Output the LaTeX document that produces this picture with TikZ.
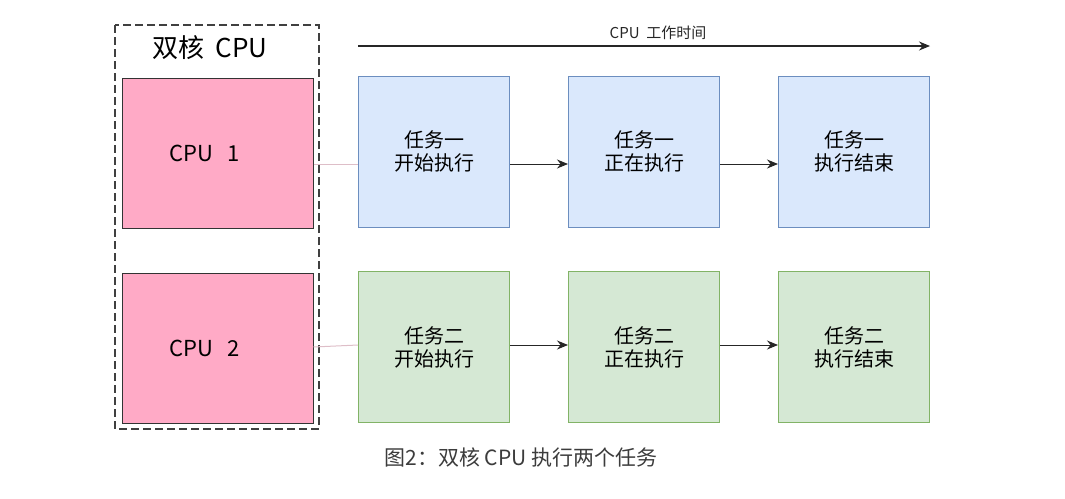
\documentclass[tikz,border=0pt]{standalone}
\usepackage{fontspec}
\setmainfont{Noto Sans CJK SC}
\usetikzlibrary{arrows.meta}
\usetikzlibrary{positioning}

\definecolor{cpupink}{RGB}{255,170,198}
\definecolor{taskblue}{RGB}{218,232,252}
\definecolor{taskblueline}{RGB}{108,142,191}
\definecolor{taskgreen}{RGB}{213,232,212}
\definecolor{taskgreenline}{RGB}{130,179,102}
\definecolor{linkpink}{RGB}{222,190,200}
\definecolor{captiongray}{RGB}{60,60,60}

\tikzset{
  cpubox/.style={rectangle, draw=black!80, line width=1pt, fill=cpupink,
    minimum width=191pt, minimum height=150pt, inner sep=0pt,
    font=\fontsize{22}{24}\selectfont},
  taskbox/.style={rectangle, line width=1pt, minimum width=151pt,
    minimum height=151pt, inner sep=0pt, align=center,
    font=\fontsize{20}{23}\selectfont},
  blue task/.style={taskbox, draw=taskblueline, fill=taskblue},
  green task/.style={taskbox, draw=taskgreenline, fill=taskgreen},
  flow/.style={-{Stealth[length=11pt,width=9pt]}, line width=1pt, black!85}
}

\begin{document}
\begin{tikzpicture}[x=1pt,y=-1pt]
    \useasboundingbox (0,0) rectangle (1065,498);
    % dual core frame
    \draw [dashed, dash pattern=on 8pt off 4pt, line width=1.2pt, black!75]
        (115,25) rectangle (319,429);
    \node (title) at (210,48) {\fontsize{26}{28}\selectfont 双核\ \ CPU};
    \node [cpubox] (cpu1) at (217.5,153) {CPU\ \ \ 1\hspace*{26pt}};
    \node [cpubox] (cpu2) at (217.5,348) {CPU\ \ \ 2\hspace*{26pt}};
    % time axis
    \coordinate (tstart) at (358,46);
    \coordinate (tend) at (930,46);
    \draw [flow, line width=1.2pt] (tstart) -- (tend)
        node [midway, above=2pt, xshift=14pt, font=\fontsize{15}{17}\selectfont] (tlabel) {CPU\ \ 工作时间};
    % first task
    \node [blue task] (a1) at (434,151.5) {任务一\\开始执行};
    \node [blue task] (a2) at (644,151.5) {任务一\\正在执行};
    \node [blue task] (a3) at (854,151.5) {任务一\\执行结束};
    % second task
    \node [green task] (b1) at (434,347) {任务二\\开始执行};
    \node [green task] (b2) at (644,347) {任务二\\正在执行};
    \node [green task] (b3) at (854,347) {任务二\\执行结束};
    % links
    \draw [linkpink, line width=1pt] ([yshift=-11pt]cpu1.east) -- ([yshift=-12.5pt]a1.west);
    \draw [linkpink, line width=1pt] ([yshift=1pt]cpu2.east) -- ([yshift=2pt]b1.west);
    \draw [flow] ([yshift=-12.5pt]a1.east) -- ([yshift=-12.5pt]a2.west);
    \draw [flow] ([yshift=-12.5pt]a2.east) -- ([yshift=-12.5pt]a3.west);
    \draw [flow] ([yshift=2pt]b1.east) -- ([yshift=2pt]b2.west);
    \draw [flow] ([yshift=2pt]b2.east) -- ([yshift=2pt]b3.west);
    \node [text=captiongray, font=\fontsize{21}{24}\selectfont] (caption) at (521,458) {图2：双核 CPU 执行两个任务};
\end{tikzpicture}
\end{document}
